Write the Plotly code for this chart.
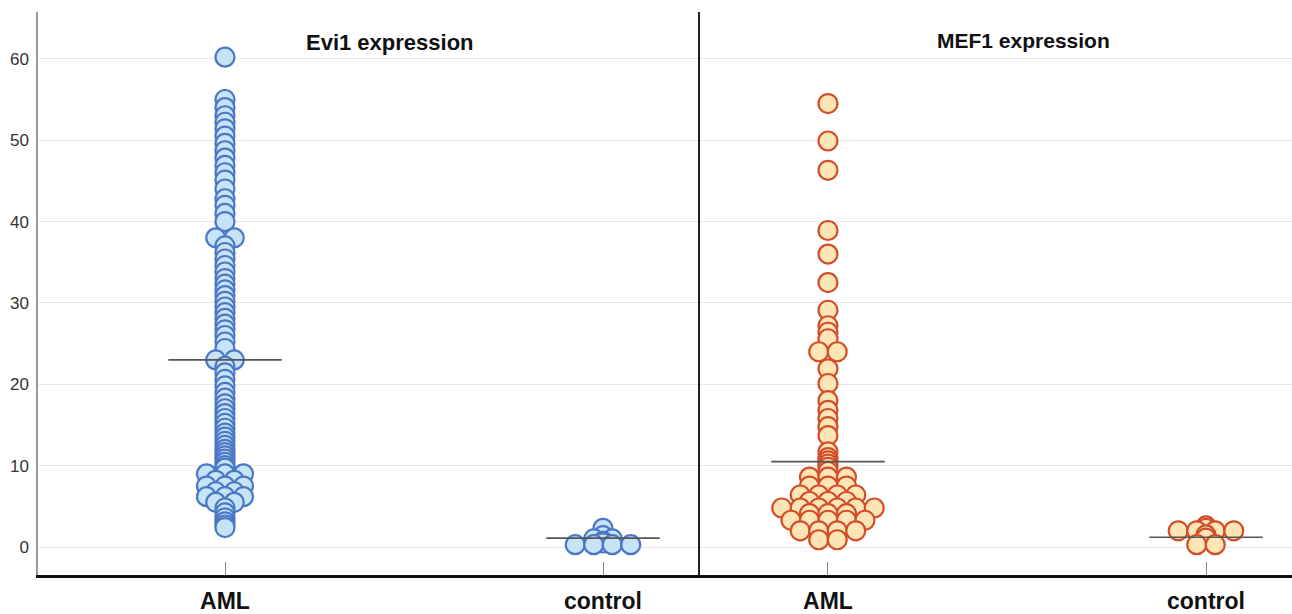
import plotly.graph_objects as go
from collections import Counter

# ---------------- data ----------------
categories = ["AML", "control"]

evi1_aml = [60.2,
            55.0, 54.0, 53.0, 52.2, 51.4, 50.5, 49.6, 48.7, 47.8, 46.9, 46.0, 45.1, 44.0, 42.8, 42.0, 41.0, 40.0,
            38.0, 38.0,
            37.0, 36.2, 35.4, 34.6, 33.8, 33.0, 32.3, 31.6, 30.9, 30.2, 29.5, 28.8, 28.1, 27.4, 26.7, 26.0, 25.2, 24.4,
            23.0, 23.0, 22.2,
            21.4, 20.6, 19.8, 19.0, 18.3, 17.6, 17.0, 16.4, 15.8, 15.2, 14.6, 14.0, 13.5, 13.0, 12.5, 12.0,
            11.6, 11.2, 10.8, 10.4, 10.0, 9.7,
            9.0, 9.0, 9.0,
            8.2, 8.2,
            7.5, 7.5, 7.5,
            6.8, 6.8,
            6.2, 6.2, 6.2,
            5.5, 5.5,
            4.8, 4.2, 3.6, 3.1, 2.7, 2.4]
evi1_control = [2.3, 1.4, 1.0, 1.0, 0.7, 0.5, 0.3, 0.3, 0.3, 0.3]

mef1_aml = [54.5, 49.9, 46.3, 38.9, 36.0, 32.5, 29.1, 27.2, 26.4, 25.6, 24.0, 24.0,
            21.9, 20.1, 18.0, 16.8, 15.8, 14.8, 13.7, 11.7, 11.0, 10.6, 10.2, 9.8, 9.3,
            8.6, 8.6, 8.6,
            7.5, 7.5, 7.5,
            6.4, 6.4, 6.4, 6.4,
            5.6, 5.6, 5.6,
            4.8, 4.8, 4.8, 4.8, 4.8, 4.8,
            4.1, 4.1, 4.1,
            3.3, 3.3, 3.3, 3.3, 3.3,
            2.0, 2.0, 2.0, 2.0,
            0.9, 0.9]
mef1_control = [2.6, 2.3, 2.0, 2.0, 2.0, 2.0, 1.5, 1.1, 0.3, 0.3]

evi1_means = [23.0, 1.1]
mef1_means = [10.5, 1.2]

panel_titles = ["Evi1 expression", "MEF1 expression"]
y_ticks = [0, 10, 20, 30, 40, 50, 60]

# ---------------- layout geometry ----------------
W, H = 1292, 614
ML, MR, MT, MB = 38, 0, 12, 37
plot_w = W - ML - MR
split_px = 700 - ML
dom1 = [0, split_px / plot_w]
dom2 = [split_px / plot_w, 1]
xr1 = [-0.4947, 1.2566]
xr2 = [-0.3386, 1.2275]
yr = [-3.43, 65.75]

step_px = 18.5      # horizontal spacing between side-by-side dots
mean_half = 0.15    # half width of mean line in x units


def swarm_x(values, center, px_per_unit):
    counts = Counter(values)
    seen = Counter()
    xs = []
    for v in values:
        n = counts[v]
        i = seen[v]
        seen[v] += 1
        xs.append(center + (i - (n - 1) / 2.0) * step_px / px_per_unit)
    return xs


ppu1 = (dom1[1] - dom1[0]) * plot_w / (xr1[1] - xr1[0])
ppu2 = (dom2[1] - dom2[0]) * plot_w / (xr2[1] - xr2[0])

blue_fill, blue_line = "#c7e4f6", "#4a78c4"
red_fill, red_line = "#fde5b5", "#d34e28"

fig = go.Figure()

panels = [
    ("x", "y", ppu1, [evi1_aml, evi1_control], evi1_means, blue_fill, blue_line),
    ("x2", "y2", ppu2, [mef1_aml, mef1_control], mef1_means, red_fill, red_line),
]
for xa, ya, ppu, groups, means, fill, line in panels:
    for ci, vals in enumerate(groups):
        fig.add_trace(go.Scatter(
            x=swarm_x(vals, ci, ppu), y=vals, mode="markers",
            xaxis=xa, yaxis=ya, showlegend=False, hoverinfo="y",
            marker=dict(size=19, color=fill, line=dict(color=line, width=2.2)),
        ))
    for ci, m in enumerate(means):
        fig.add_trace(go.Scatter(
            x=[ci - mean_half, ci + mean_half], y=[m, m], mode="lines",
            xaxis=xa, yaxis=ya, showlegend=False, hoverinfo="skip",
            line=dict(color="#555555", width=1.6),
        ))

font_family = "Liberation Sans, Arial, sans-serif"
xcommon = dict(
    tickmode="array", tickvals=[0, 1],
    ticktext=["<b>%s</b>" % c for c in categories],
    tickfont=dict(family=font_family, size=23, color="#111111"),
    ticks="inside", ticklen=13, tickwidth=1, tickcolor="#888888",
    showgrid=False, zeroline=False,
    showline=True, linecolor="#111111", linewidth=3,
    ticklabelstandoff=3,
)
ycommon = dict(
    range=yr, tickmode="array", tickvals=y_ticks,
    showgrid=True, gridcolor="#e8e8e8", gridwidth=1, zeroline=False,
)

fig.update_layout(
    width=W, height=H,
    margin=dict(l=ML, r=MR, t=MT, b=MB),
    paper_bgcolor="white", plot_bgcolor="white",
    font=dict(family=font_family),
    xaxis=dict(domain=dom1, range=xr1, anchor="y", **xcommon),
    xaxis2=dict(domain=dom2, range=xr2, anchor="y2", **xcommon),
    yaxis=dict(anchor="x", showline=True, linecolor="#999999", linewidth=1.5,
               tickfont=dict(family=font_family, size=17, color="#333333"),
               ticks="", ticklabelstandoff=4, **ycommon),
    yaxis2=dict(anchor="x2", matches="y", showticklabels=False, ticks="",
                showline=True, linecolor="#222222", linewidth=2, **ycommon),
    annotations=[
        dict(text="<b>%s</b>" % panel_titles[0], xref="paper", yref="y",
             x=(390 - ML) / plot_w, y=62.0, xanchor="center", yanchor="middle",
             showarrow=False,
             font=dict(family=font_family, size=22, color="#111111")),
        dict(text="<b>%s</b>" % panel_titles[1], xref="paper", yref="y",
             x=(1023 - ML) / plot_w, y=62.2, xanchor="center", yanchor="middle",
             showarrow=False,
             font=dict(family=font_family, size=21, color="#111111")),
    ],
)

fig.write_html("out.html")
